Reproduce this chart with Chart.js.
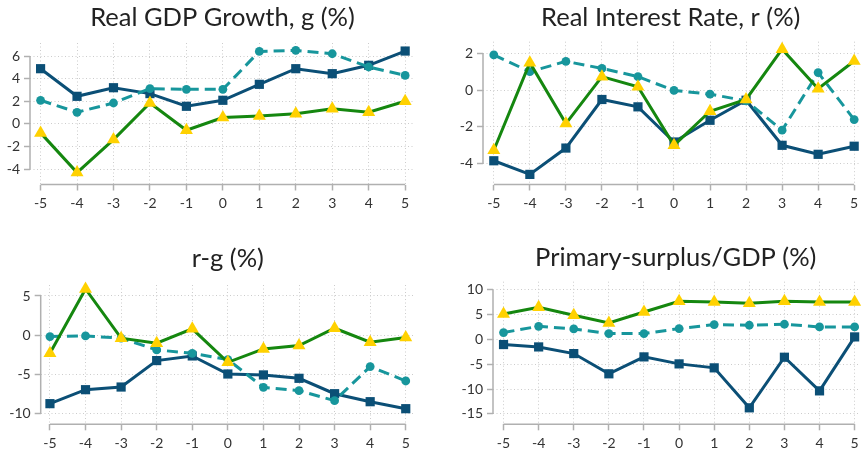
<!DOCTYPE html>
<html>
<head>
<meta charset="utf-8">
<script src="https://cdn.jsdelivr.net/npm/chart.js@4.4.1/dist/chart.umd.min.js"></script>
<style>
  html, body { margin: 0; padding: 0; background: #ffffff; }
  body { width: 866px; height: 451px; position: relative; overflow: hidden; }
  .panel { position: absolute; }
  .panel canvas { display: block; }
</style>
</head>
<body>
<div class="panel" style="left:0;top:0;width:433px;height:225px"><canvas id="c1" width="433" height="225"></canvas></div>
<div class="panel" style="left:433px;top:0;width:433px;height:225px"><canvas id="c2" width="433" height="225"></canvas></div>
<div class="panel" style="left:0;top:225px;width:433px;height:226px"><canvas id="c3" width="433" height="226"></canvas></div>
<div class="panel" style="left:433px;top:225px;width:433px;height:226px"><canvas id="c4" width="433" height="226"></canvas></div>
<script>
// Years relative to the event (t = 0)
const periods = [-5, -4, -3, -2, -1, 0, 1, 2, 3, 4, 5];

// Real GDP growth, g (%)
const growthSquare   = [4.88, 2.44, 3.20, 2.68, 1.56, 2.09, 3.50, 4.88, 4.44, 5.18, 6.44];
const growthCircle   = [2.09, 1.03, 1.85, 3.12, 3.06, 3.06, 6.41, 6.50, 6.20, 5.03, 4.29];
const growthTriangle = [-0.79, -4.30, -1.38, 1.85, -0.56, 0.56, 0.70, 0.90, 1.35, 1.03, 2.00];

// Real interest rate, r (%)
const rateSquare   = [-3.84, -4.58, -3.15, -0.51, -0.91, -2.82, -1.64, -0.55, -3.00, -3.49, -3.05];
const rateCircle   = [1.91, 1.00, 1.56, 1.18, 0.73, -0.02, -0.22, -0.58, -2.18, 0.95, -1.60];
const rateTriangle = [-3.27, 1.49, -1.82, 0.73, 0.18, -3.00, -1.15, -0.51, 2.22, 0.07, 1.58];

// r - g (%)
const gapSquare   = [-8.72, -6.94, -6.60, -3.23, -2.64, -4.94, -5.06, -5.49, -7.45, -8.47, -9.36];
const gapCircle   = [-0.17, -0.09, -0.38, -1.87, -2.30, -3.10, -6.64, -7.06, -8.34, -4.00, -5.83];
const gapTriangle = [-2.30, 5.90, -0.38, -1.02, 0.81, -3.45, -1.74, -1.32, 0.89, -0.89, -0.30];

// Primary surplus / GDP (%)
const surplusSquare   = [-1.00, -1.48, -2.82, -6.90, -3.49, -4.90, -5.70, -13.76, -3.56, -10.34, 0.54];
const surplusCircle   = [1.41, 2.68, 2.15, 1.21, 1.21, 2.21, 3.02, 2.89, 3.09, 2.55, 2.55];
const surplusTriangle = [5.17, 6.50, 4.90, 3.36, 5.57, 7.72, 7.58, 7.32, 7.72, 7.58, 7.58];

// Tick labels
const xTicks = [-5, -4, -3, -2, -1, 0, 1, 2, 3, 4, 5];
const growthTicks  = [-4, -2, 0, 2, 4, 6];
const rateTicks    = [-4, -2, 0, 2];
const gapTicks     = [-10, -5, 0, 5];
const surplusTicks = [-15, -10, -5, 0, 5, 10];

// Titles
const titles = ['Real GDP Growth, g (%)', 'Real Interest Rate, r (%)', 'r-g (%)', 'Primary-surplus/GDP (%)'];

const NAVY = '#0b4f76';
const TEAL = '#17969c';
const GREEN = '#15870f';
const YELLOW = '#ffd100';
const GRID = '#cccccc';
const AXIS = '#b0b0b0';
const TEXT = '#333333';
const FONT = 'Lato, "Open Sans", sans-serif';
const TITLE_SIZE = 25.5;

// Stata-like axis lines: span only from first to last tick
const axisLines = {
  id: 'axisLines',
  beforeDatasetsDraw(chart) {
    const { ctx, chartArea } = chart;
    const xs = chart.scales.x, ys = chart.scales.y;
    const xt = xs.ticks, yt = ys.ticks;
    ctx.save();
    ctx.strokeStyle = AXIS;
    ctx.lineWidth = 1.5;
    ctx.setLineDash([]);
    ctx.beginPath();
    ctx.moveTo(xs.getPixelForValue(xt[0].value), chartArea.bottom);
    ctx.lineTo(xs.getPixelForValue(xt[xt.length - 1].value), chartArea.bottom);
    ctx.moveTo(chartArea.left, ys.getPixelForValue(yt[0].value));
    ctx.lineTo(chartArea.left, ys.getPixelForValue(yt[yt.length - 1].value));
    ctx.stroke();
    ctx.restore();
  }
};

function points(values) {
  return periods.map((p, i) => ({ x: p, y: values[i] }));
}

function makeDatasets(sq, ci, tr) {
  return [
    {
      data: points(sq), order: 2, clip: false,
      borderColor: NAVY, borderWidth: 3,
      pointStyle: 'rect', pointRadius: 6.5,
      pointBackgroundColor: NAVY, pointBorderColor: NAVY, pointBorderWidth: 0
    },
    {
      data: points(ci), order: 1, clip: false,
      borderColor: TEAL, borderWidth: 3, borderDash: [11, 6],
      pointStyle: 'circle', pointRadius: 4.4,
      pointBackgroundColor: TEAL, pointBorderColor: TEAL, pointBorderWidth: 0
    },
    {
      data: points(tr), order: 0, clip: false,
      borderColor: GREEN, borderWidth: 3,
      pointStyle: 'triangle', pointRadius: 7.5,
      pointBackgroundColor: YELLOW, pointBorderColor: YELLOW, pointBorderWidth: 0
    }
  ];
}

// area: chart-area box inside the canvas; xr / yr: axis ranges; titleMid: title centre line
function makeChart(id, title, datasets, yTicks, area, xr, yr, titleMid) {
  const canvas = document.getElementById(id);
  const H = canvas.height, W = canvas.width;
  const titleLine = TITLE_SIZE * 1.2;
  const titleTop = titleMid - titleLine / 2;
  return new Chart(canvas, {
    type: 'line',
    data: { datasets },
    plugins: [axisLines],
    options: {
      responsive: false,
      animation: false,
      devicePixelRatio: 1,
      layout: { padding: { left: 0, right: W - area.right, top: 0, bottom: 0 } },
      plugins: {
        legend: { display: false },
        tooltip: { enabled: false },
        title: {
          display: true, text: title, fullSize: false,
          color: '#222222',
          font: { family: FONT, size: TITLE_SIZE, weight: '400', lineHeight: 1.2 },
          padding: { top: titleTop, bottom: area.top - titleTop - titleLine }
        }
      },
      scales: {
        x: {
          type: 'linear', min: xr[0], max: xr[1],
          afterBuildTicks: s => { s.ticks = xTicks.map(v => ({ value: v })); },
          afterFit: s => { s.height = H - area.bottom; },
          grid: { color: GRID, lineWidth: 1, drawTicks: true, tickLength: 6, tickColor: AXIS, tickWidth: 1.5, tickBorderDash: [] },
          border: { display: false, dash: [1, 2.5] },
          ticks: { color: TEXT, font: { family: FONT, size: 14 }, padding: 5, maxRotation: 0, autoSkip: false }
        },
        y: {
          type: 'linear', min: yr[0], max: yr[1],
          afterBuildTicks: s => { s.ticks = yTicks.map(v => ({ value: v })); },
          afterFit: s => { s.width = area.left; },
          grid: { color: GRID, lineWidth: 1, drawTicks: true, tickLength: 6, tickColor: AXIS, tickWidth: 1.5, tickBorderDash: [] },
          border: { display: false, dash: [1, 2.5] },
          ticks: { color: TEXT, font: { family: FONT, size: 14 }, padding: 4, autoSkip: false }
        }
      }
    }
  });
}

makeChart('c1', titles[0], makeDatasets(growthSquare, growthCircle, growthTriangle), growthTicks,
  { left: 30, right: 415, top: 43, bottom: 184.5 }, [-5.29, 5.27], [-5.35, 7.15], 18);
makeChart('c2', titles[1], makeDatasets(rateSquare, rateCircle, rateTriangle), rateTicks,
  { left: 50, right: 430, top: 41.7, bottom: 184.5 }, [-5.30, 5.12], [-5.13, 2.63], 18);
makeChart('c3', titles[2], makeDatasets(gapSquare, gapCircle, gapTriangle), gapTicks,
  { left: 40.7, right: 415, top: 60, bottom: 199.3 }, [-5.26, 5.26], [-11.35, 6.4], 33.3);
makeChart('c4', titles[3], makeDatasets(surplusSquare, surplusCircle, surplusTriangle), surplusTicks,
  { left: 60, right: 430, top: 56.7, bottom: 199.3 }, [-5.30, 5.11], [-17.08, 11.67], 33);
</script>
</body>
</html>
